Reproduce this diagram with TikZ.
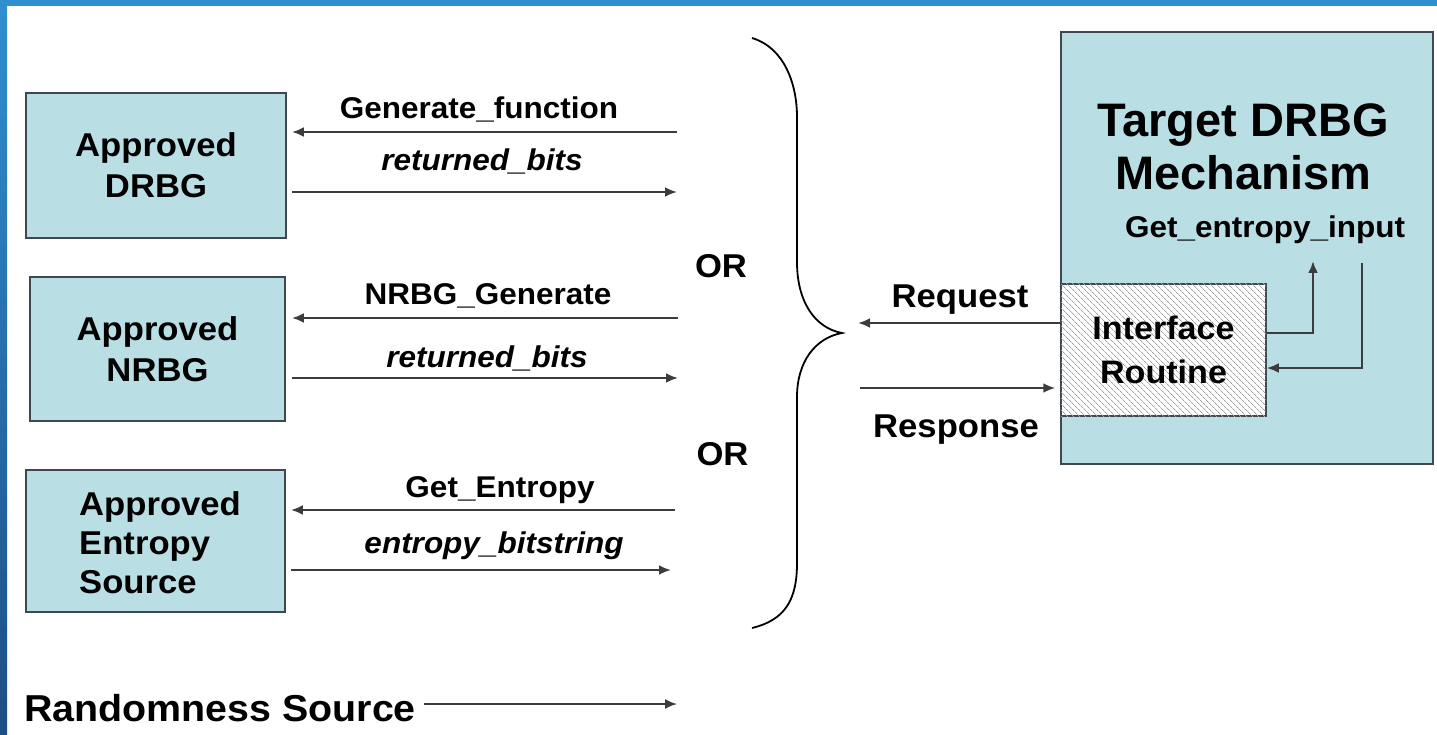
\documentclass[tikz,border=0pt]{standalone}
\usepackage{fontspec}
\setmainfont{Liberation Sans}[FakeStretch=1.05]
\newfontfamily\titlefont{Liberation Sans}
\usetikzlibrary{arrows.meta,patterns.meta}
\definecolor{boxfill}{RGB}{185,222,228}
\definecolor{boxline}{RGB}{62,72,78}
\definecolor{arr}{RGB}{60,60,60}
\definecolor{frameA}{RGB}{47,143,207}
\definecolor{frameB}{RGB}{30,78,134}
\begin{document}
\begin{tikzpicture}[x=1pt,y=-1pt,
  box/.style={draw=boxline, line width=1.8pt, fill=boxfill, inner sep=0pt, align=center,
              font=\bfseries\fontsize{33}{41}\selectfont},
  lbl/.style={font=\bfseries\fontsize{30}{34}\selectfont, anchor=base, inner sep=0pt},
  ilbl/.style={font=\bfseries\itshape\fontsize{30}{34}\selectfont, anchor=base, inner sep=0pt},
  big/.style={font=\bfseries\fontsize{33}{38}\selectfont, anchor=base, inner sep=0pt},
  flow/.style={draw=arr, line width=2.5pt, -{Latex[length=12pt,width=10pt]}},
  brace/.style={draw=black, line width=1.8pt}
]
\useasboundingbox (0,0) rectangle (1437,735);
\fill[white] (0,0) rectangle (1437,735);
\fill[frameA] (0,0) rectangle (1437,6);
\shade[top color=frameA, bottom color=frameB] (0,0) rectangle (7,735);

% left boxes
\node[box, minimum width=260pt, minimum height=145pt] (drbg) at (156,165.5) {Approved\\DRBG};
\node[box, minimum width=255pt, minimum height=144pt] (nrbg) at (157.5,349) {Approved\\NRBG};
\node[box, minimum width=259pt, minimum height=142pt] (ent) at (155.5,541) {};
\node[font=\bfseries\fontsize{33}{39}\selectfont, align=left, anchor=west, inner sep=0pt]
  (enttxt) at (79,543) {Approved\\Entropy\\Source};

% target
\node[box, minimum width=372pt, minimum height=432pt] (target) at (1247,248) {};
\node[font=\titlefont\bfseries\fontsize{47}{53}\selectfont, align=center, inner sep=0pt]
  (title) at (1243,147) {Target DRBG\\Mechanism};
\node[lbl] (gei) at (1265,238) {Get\_entropy\_input};
\node[draw=boxline, line width=1.5pt, fill=white,
      postaction={pattern={Lines[angle=-45,distance=4pt,line width=0.8pt]}, pattern color=gray!75},
      minimum width=205pt, minimum height=132pt, inner sep=0pt, align=center,
      font=\bfseries\fontsize{32.5}{44}\selectfont] (iface) at (1163.5,350) {Interface\\Routine};

% left arrows
\coordinate (gf) at (677,132);
\draw[flow, shorten >=5pt] (gf) -- (gf -| drbg.east);
\node[lbl] (gfl) at (479,119) {Generate\_function};
\coordinate (rb1) at (677,192);
\draw[flow, shorten <=5pt] (rb1 -| drbg.east) -- (rb1);
\node[ilbl] (rb1l) at (482,171) {returned\_bits};

\coordinate (ng) at (678,318);
\draw[flow, shorten >=6pt] (ng) -- (ng -| nrbg.east);
\node[lbl] (ngl) at (488,305) {NRBG\_Generate};
\coordinate (rb2) at (678,378);
\draw[flow, shorten <=6pt] (rb2 -| nrbg.east) -- (rb2);
\node[ilbl] (rb2l) at (487,367) {returned\_bits};

\coordinate (ge) at (675,510);
\draw[flow, shorten >=5pt] (ge) -- (ge -| ent.east);
\node[lbl] (gel) at (500,497) {Get\_Entropy};
\coordinate (eb) at (671,570);
\draw[flow, shorten <=5pt] (eb -| ent.east) -- (eb);
\node[ilbl] (ebl) at (494,553) {entropy\_bitstring};

% OR labels
\node[big] (or1) at (721,277) {OR};
\node[big] (or2) at (722.5,465) {OR};

% brace
\draw[brace] (752,38) .. controls (785,48) and (797,85) .. (797,117) -- (797,262)
  .. controls (797,302) and (815,328) .. (842,333)
  .. controls (815,338) and (797,362) .. (797,397) -- (797,563)
  .. controls (797,600) and (785,620) .. (752,628);

% request / response
\coordinate (req) at (858,323);
\draw[flow] (iface.west |- req) -- (req);
\node[big] (reql) at (960,307) {Request};
\coordinate (resp) at (860,388);
\draw[flow, shorten >=5pt] (resp) -- (iface.west |- resp);
\node[big] (respl) at (956,437) {Response};

% entropy input loop
\coordinate (geiup) at (1313,261);
\coordinate (geidown) at (1362,263);
\draw[flow] ([yshift=17pt]iface.east) -| (geiup);
\draw[flow] (geidown) |- ([yshift=-18pt]iface.east);

% randomness source
\node[font=\bfseries\fontsize{37.5}{40}\selectfont, anchor=base west, inner sep=0pt] (rs) at (24,721) {Randomness Source};
\coordinate (rsend) at (677,704);
\draw[flow, line width=1.8pt, shorten <=8pt] (rs.east |- rsend) -- (rsend);
\end{tikzpicture}
\end{document}
